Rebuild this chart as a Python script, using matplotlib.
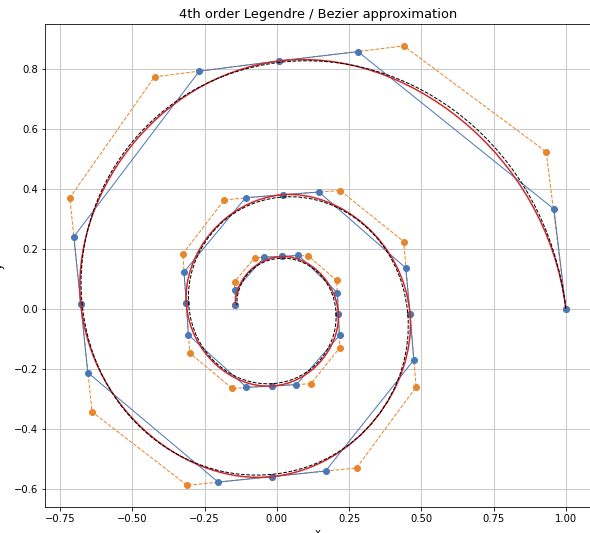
import numpy as np
import matplotlib as mpl
mpl.use('Agg')
from matplotlib import pyplot as plt
from matplotlib.path import Path
from matplotlib.patches import PathPatch

# control polygon of the Legendre coefficients
leg_x = [1.000, 0.959, 0.281, 0.008, -0.268, -0.702, -0.678, -0.654, -0.203, -0.017,
         0.169, 0.474, 0.461, 0.446, 0.146, 0.021, -0.108, -0.321, -0.313, -0.306,
         -0.105, -0.017, 0.068, 0.217, 0.213, 0.210, 0.075, 0.017, -0.043, -0.144, -0.143]
leg_y = [0.000, 0.332, 0.857, 0.826, 0.792, 0.240, 0.014, -0.213, -0.578, -0.560,
         -0.541, -0.171, -0.018, 0.136, 0.389, 0.380, 0.370, 0.122, 0.018, -0.087,
         -0.262, -0.258, -0.253, -0.089, -0.019, 0.053, 0.178, 0.174, 0.172, 0.061, 0.013]

# bezier control points, 10 cubic pieces
bez_x = [1.000, 0.932, 0.439, 0.008, -0.423, -0.716, -0.678, -0.639, -0.310, -0.017,
         0.276, 0.482, 0.461, 0.439, 0.219, 0.021, -0.181, -0.325, -0.313, -0.301,
         -0.154, -0.017, 0.118, 0.218, 0.213, 0.207, 0.108, 0.017, -0.076, -0.146, -0.143]
bez_y = [0.000, 0.523, 0.876, 0.826, 0.773, 0.370, 0.014, -0.344, -0.589, -0.560,
         -0.531, -0.261, -0.018, 0.224, 0.394, 0.380, 0.363, 0.183, 0.018, -0.148,
         -0.266, -0.258, -0.250, -0.130, -0.019, 0.094, 0.177, 0.174, 0.170, 0.090, 0.013]

# exact spiral, also given as cubic pieces
ex_x = [1.000, 0.931, 0.458, 0.007, -0.443, -0.714, -0.673, -0.633, -0.319, -0.014,
        0.290, 0.476, 0.453, 0.430, 0.221, 0.016, -0.189, -0.317, -0.305, -0.293,
        -0.154, -0.015, 0.123, 0.212, 0.205, 0.199, 0.106, 0.013, -0.080, -0.141, -0.138]
ex_y = [0.000, 0.549, 0.874, 0.821, 0.768, 0.382, 0.012, -0.358, -0.583, -0.552,
        -0.522, -0.265, -0.016, 0.234, 0.389, 0.372, 0.355, 0.184, 0.016, -0.152,
        -0.259, -0.250, -0.241, -0.128, -0.014, 0.099, 0.173, 0.168, 0.164, 0.089, 0.012]


def bezier_patch(xs, ys, **kw):
    verts = np.column_stack([xs, ys])
    codes = [Path.MOVETO] + [Path.CURVE4] * (len(xs) - 1)
    return PathPatch(Path(verts, codes), fill=False, **kw)


def main():
    fig = plt.figure(figsize=(590 / 72, 533 / 72), dpi=72)
    ax = fig.add_axes([0.0763, 0.0482, 0.9248, 0.9068])

    ax.plot(bez_x, bez_y, '--o', color='#e8862d', lw=1, ms=6, zorder=2)
    ax.plot(leg_x, leg_y, '-o', color='#4a78b6', lw=1, ms=6, zorder=3)
    ax.add_patch(bezier_patch(bez_x, bez_y, edgecolor='#d0282e', lw=1.5, zorder=4))
    ax.add_patch(bezier_patch(ex_x, ex_y, edgecolor='k', lw=1, ls='--', zorder=5))

    ax.grid(True, color='#c8c8c8', lw=1)
    ax.set_axisbelow(True)
    ax.tick_params(labelsize=10)
    ax.set_title('4th order Legendre / Bezier approximation', fontsize=13)
    ax.set_xlabel('x')
    ax.set_ylabel('y')
    ax.yaxis.set_label_coords(-0.073, 0.5)
    ax.spines['right'].set_visible(False)

    fig.savefig('out.png', dpi=72)


if __name__ == '__main__':
    main()
